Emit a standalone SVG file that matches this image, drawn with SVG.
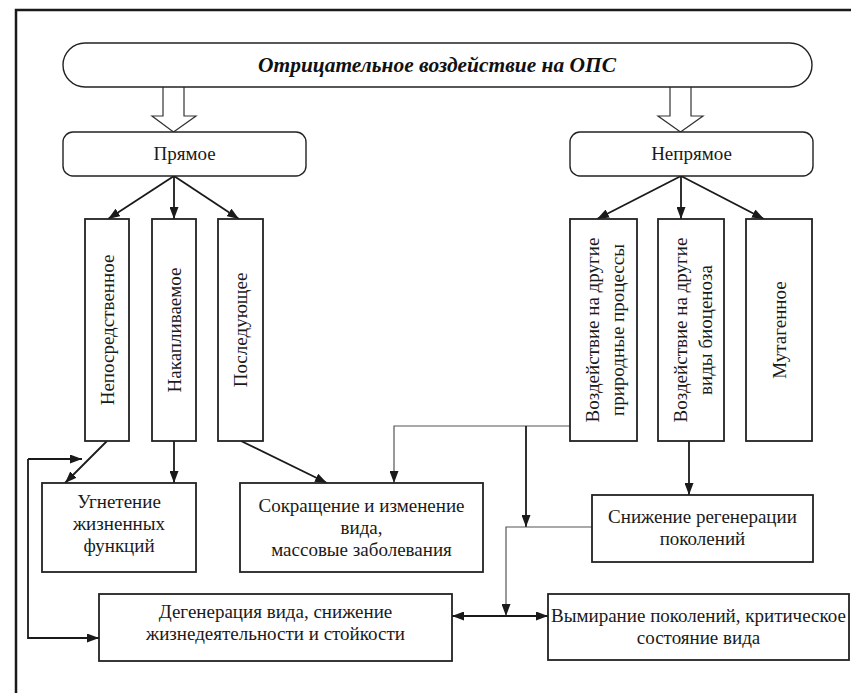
<svg xmlns="http://www.w3.org/2000/svg" width="851" height="693" viewBox="0 0 851 693">
<defs>
<style>
.frame{fill:none;stroke:#1a1a1a;stroke-width:2.5}
.box{fill:#fff;stroke:#222;stroke-width:1.8}
.t{font-family:"Liberation Serif","DejaVu Serif","Times New Roman",serif;font-size:19px;fill:#1a1a1a;text-anchor:middle}
.title{font-family:"Liberation Serif","DejaVu Serif","Times New Roman",serif;font-size:21px;font-weight:bold;font-style:italic;fill:#111;text-anchor:middle}
.c{fill:none;stroke:#1a1a1a;stroke-width:1.8}
.cg{fill:none;stroke:#555;stroke-width:1.2}
.hollow{fill:#fff;stroke:#333;stroke-width:1.2}
</style>
<marker id="ah" viewBox="0 0 12 9" refX="12" refY="4.5" markerWidth="12" markerHeight="9" markerUnits="userSpaceOnUse" orient="auto-start-reverse">
<path d="M0,0 L12,4.5 L0,9 z" fill="#1a1a1a"/>
</marker>
</defs>
<rect x="16" y="10" width="900" height="800" class="frame"/>

<g id="connectors">
<path class="hollow" d="M163,87 V116 H152 L173.5,132 L196,116 H184 V87"/>
<path class="hollow" d="M670,87 V116 H658 L680.5,132 L703,116 H691 V87"/>
<path class="c" d="M174,176 L108,219" marker-end="url(#ah)"/>
<path class="c" d="M174,176 L174,219" marker-end="url(#ah)"/>
<path class="c" d="M174,176 L239,219" marker-end="url(#ah)"/>
<path class="c" d="M681,176 L597,219" marker-end="url(#ah)"/>
<path class="c" d="M681,176 L681,219" marker-end="url(#ah)"/>
<path class="c" d="M681,176 L764,219" marker-end="url(#ah)"/>
<path class="c" d="M107,441 L65,483" marker-end="url(#ah)"/>
<path class="c" d="M174,441 V483" marker-end="url(#ah)"/>
<path class="c" d="M241,441 L327,483" marker-end="url(#ah)"/>
<path class="c" d="M28,459 H82" marker-end="url(#ah)"/>
<path class="c" d="M28,459 V638 H99" marker-end="url(#ah)"/>
<path class="cg" d="M570,426 H394 V483" marker-end="url(#ah)"/>
<path class="c" d="M526,426 V527" marker-end="url(#ah)"/>
<path class="cg" d="M592,527 H506 V616" marker-end="url(#ah)"/>
<path class="c" d="M452,616 H548" marker-start="url(#ah)" marker-end="url(#ah)"/>
<path class="c" d="M689,441 V495" marker-end="url(#ah)"/>
</g>

<g id="title">
<rect class="box" x="63" y="43" width="749" height="44" rx="22" ry="22" style="stroke-width:1.4"/>
<text class="title" x="437" y="72" textLength="358" lengthAdjust="spacingAndGlyphs">Отрицательное воздействие на ОПС</text>
</g>

<g id="direct">
<rect class="box" x="63" y="132" width="243" height="44" rx="10" style="stroke-width:1.4"/>
<text class="t" x="184.5" y="160">Прямое</text>
</g>
<g id="indirect">
<rect class="box" x="570" y="132" width="243" height="44" rx="10" style="stroke-width:1.4"/>
<text class="t" x="691.5" y="160">Непрямое</text>
</g>

<g id="immediate">
<rect class="box" x="85" y="219" width="44" height="222"/>
<text class="t" transform="translate(107,330) rotate(-90)" dominant-baseline="central">Непосредственное</text>
</g>
<g id="accumulated">
<rect class="box" x="152" y="219" width="44" height="222"/>
<text class="t" transform="translate(174,330) rotate(-90)" dominant-baseline="central">Накапливаемое</text>
</g>
<g id="subsequent">
<rect class="box" x="218" y="219" width="45" height="222"/>
<text class="t" transform="translate(240.5,330) rotate(-90)" dominant-baseline="central">Последующее</text>
</g>

<g id="natural">
<rect class="box" x="570" y="219" width="67" height="222"/>
<text class="t" transform="translate(592,330) rotate(-90)" dominant-baseline="central">Воздействие на другие</text>
<text class="t" transform="translate(617,330) rotate(-90)" dominant-baseline="central">природные процессы</text>
</g>
<g id="biocenosis">
<rect class="box" x="658" y="219" width="66" height="222"/>
<text class="t" transform="translate(680,330) rotate(-90)" dominant-baseline="central">Воздействие на другие</text>
<text class="t" transform="translate(705,330) rotate(-90)" dominant-baseline="central">виды биоценоза</text>
</g>
<g id="mutagenic">
<rect class="box" x="746" y="219" width="66" height="222"/>
<text class="t" transform="translate(779,330) rotate(-90)" dominant-baseline="central">Мутагенное</text>
</g>

<g id="suppression">
<rect class="box" x="42" y="483" width="154" height="89"/>
<text class="t" x="119" y="508">Угнетение</text>
<text class="t" x="119" y="530">жизненных</text>
<text class="t" x="119" y="552">функций</text>
</g>
<g id="reduction">
<rect class="box" x="240" y="483" width="243" height="89"/>
<text class="t" x="361.5" y="512">Сокращение и изменение</text>
<text class="t" x="361.5" y="534">вида,</text>
<text class="t" x="361.5" y="556">массовые заболевания</text>
</g>
<g id="regeneration">
<rect class="box" x="592" y="495" width="221" height="67"/>
<text class="t" x="702.5" y="523">Снижение регенерации</text>
<text class="t" x="702.5" y="545">поколений</text>
</g>
<g id="degeneration">
<rect class="box" x="99" y="594" width="353" height="67"/>
<text class="t" x="275.5" y="618">Дегенерация вида, снижение</text>
<text class="t" x="275.5" y="640">жизнедеятельности и стойкости</text>
</g>
<g id="extinction">
<rect class="box" x="548" y="594" width="301" height="66"/>
<text class="t" x="698.5" y="622">Вымирание поколений, критическое</text>
<text class="t" x="698.5" y="644">состояние вида</text>
</g>
</svg>
